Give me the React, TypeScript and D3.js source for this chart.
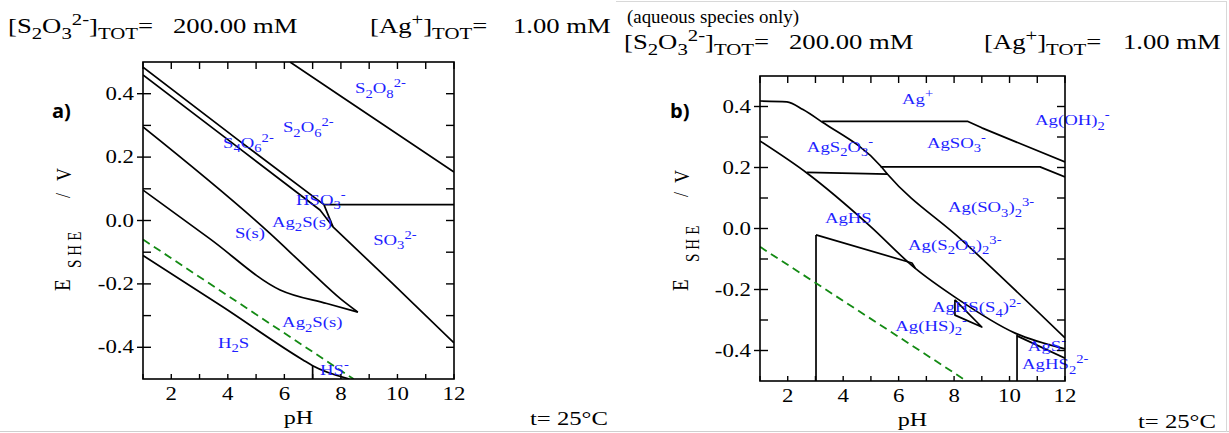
import React from 'react';
import * as d3 from 'd3';

type Pt = [number, number];

// ---------- Panel a: boundaries (pH, E / V) ----------
const aS2O8: Pt[] = [[6.2, 0.5], [8.0, 0.392], [12, 0.153]];
const aUpperA: Pt[] = [[1, 0.484], [4.5, 0.245], [7.4, 0.05], [7.72, -0.02]];
const aUpperB: Pt[] = [[1, 0.459], [4.5, 0.221], [7.26, 0.033], [7.72, -0.02], [9.84, -0.2], [12, -0.386]];
const aHSO3: Pt[] = [[7.4, 0.05], [12, 0.05]];
const aWedgeTop: Pt[] = [[1, 0.295], [5.48, -0.04], [6.8, -0.15], [8.0, -0.248], [8.6, -0.289]];
const aWedgeBottom: Pt[] = [[1, 0.096], [3.37, -0.058], [5.85, -0.219], [7.5, -0.262], [8.6, -0.289]];
const aH2S: Pt[] = [[1, -0.11], [3.83, -0.273], [6.66, -0.44], [7, -0.458], [8.3, -0.5]];
const aHSvert: Pt[] = [[7, -0.458], [7, -0.5]];
const aWater: Pt[] = [[1, -0.06], [8.45, -0.5]];

// ---------- Panel b: boundaries ----------
const bTop: Pt[] = [[1, 0.418], [1.97, 0.415], [2.55, 0.39], [3.24, 0.349], [5.35, 0.205], [5.6, 0.178], [8.28, -0.038], [12, -0.359]];
const bAgSO3Top: Pt[] = [[3.24, 0.351], [8.5, 0.351], [9.0, 0.33], [12, 0.218]];
const bAgSO3Bottom: Pt[] = [[5.35, 0.202], [11.1, 0.202], [12, 0.169]];
const bAgS2O3Bottom: Pt[] = [[2.69, 0.184], [4.8, 0.18], [5.6, 0.178]];
const bMid: Pt[] = [[1, 0.287], [2.69, 0.182], [4.97, 0.008], [6.59, -0.13], [8.03, -0.225], [10.2, -0.343], [12, -0.395]];
const bAgHSTop: Pt[] = [[3.02, -0.021], [6.48, -0.113], [6.6, -0.13]];
const bVert1: Pt[] = [[3.02, -0.021], [3.02, -0.5]];
const bTriangle: Pt[] = [[8.03, -0.234], [8.03, -0.284], [9.0, -0.323], [8.03, -0.234]];
const bVert2: Pt[] = [[10.27, -0.349], [10.27, -0.5]];
const bSliver: Pt[] = [[10.27, -0.352], [12, -0.425]];
const bWater: Pt[] = [[1, -0.06], [8.45, -0.5]];

// ---------- Region labels: [markup, pH, E] ----------
const aLabels: [string, number, number][] = [
  ['S_2O_8^{2-}', 8.5, 0.402],
  ['S_2O_6^{2-}', 5.95, 0.279],
  ['S_4O_6^{2-}', 3.83, 0.229],
  ['HSO_3^-', 6.41, 0.049],
  ['Ag_2S(s)', 5.56, -0.02],
  ['S(s)', 4.25, -0.055],
  ['SO_3^{2-}', 9.14, -0.077],
  ['Ag_2S(s)', 5.92, -0.336],
  ['H_2S', 3.65, -0.402],
  ['HS^-', 7.26, -0.487],
];
const bLabels: [string, number, number][] = [
  ['Ag^+', 6.12, 0.408],
  ['Ag(OH)_2^-', 10.92, 0.339],
  ['AgS_2O_3^-', 2.69, 0.251],
  ['AgSO_3^-', 7.02, 0.264],
  ['Ag(SO_3)_2^{3-}', 7.78, 0.054],
  ['AgHS', 3.34, 0.018],
  ['Ag(S_2O_3)_2^{3-}', 6.34, -0.07],
  ['AgHS(S_4)^{2-}', 7.2, -0.275],
  ['Ag(HS)_2^-', 5.88, -0.335],
  ['AgS^-', 10.66, -0.402],
  ['AgHS_2^{2-}', 10.45, -0.461],
];

const xTicks = d3.range(1, 13);
const xTickLabels = [2, 4, 6, 8, 10, 12];
const yTicks = [-0.4, -0.3, -0.2, -0.1, 0, 0.1, 0.2, 0.3, 0.4];
const yTickLabels = [-0.4, -0.2, 0, 0.2, 0.4];

const SERIF = '"Liberation Serif", "Times New Roman", serif';
const BLUE = '#1f1fff';
const SX = 1.27; // horizontal stretch of the original figure's text

type Part = { t: string; k?: 'sub' | 'sup' };
function parse(s: string): Part[] {
  const out: Part[] = [];
  let buf = '';
  let i = 0;
  while (i < s.length) {
    const c = s[i];
    if (c === '_' || c === '^') {
      if (buf) { out.push({ t: buf }); buf = ''; }
      let t = '';
      if (s[i + 1] === '{') {
        const j = s.indexOf('}', i + 2);
        t = s.slice(i + 2, j);
        i = j + 1;
      } else {
        t = s[i + 1];
        i += 2;
      }
      out.push({ t, k: c === '_' ? 'sub' : 'sup' });
    } else {
      buf += c;
      i++;
    }
  }
  if (buf) out.push({ t: buf });
  return out;
}

function Rich(props: { x: number; y: number; spec: string; size: number; fill?: string; anchor?: string; sx?: number; sub?: number }) {
  const { x, y, spec, size, fill = '#000', anchor = 'start', sx = SX, sub = 0.78 } = props;
  const parts = parse(spec);
  let cur = 0;
  return (
    <g transform={`translate(${x},${y}) scale(${sx},1)`}>
      <text x={0} y={0} fontSize={size} fill={fill} fontFamily={SERIF} textAnchor={anchor} style={{ whiteSpace: 'pre' }}>
        {parts.map((p, i) => {
          const target = p.k === 'sub' ? size * 0.3 : p.k === 'sup' ? -size * 0.38 : 0;
          const dy = target - cur;
          cur = target;
          return (
            <tspan key={i} dy={dy} fontSize={p.k ? size * sub : size}>
              {p.t}
            </tspan>
          );
        })}
      </text>
    </g>
  );
}

function RotText(props: { x: number; y: number; size: number; children: React.ReactNode; ls?: number }) {
  return (
    <text transform={`translate(${props.x},${props.y}) rotate(-90) scale(1,1.2)`} fontFamily={SERIF} fontSize={props.size} letterSpacing={props.ls || 0}>
      {props.children}
    </text>
  );
}

type PanelProps = {
  x0: number; x1: number; y0: number; y1: number;
  curved: Pt[][];
  straight: Pt[][];
  water: Pt[];
  labels: [string, number, number][];
  tag: string;
  tagX: number; tagY: number;
  yLab: { eX: number; eY: number; sheX: number; sheY: number; slashY: number; vY: number };
  tickLabRight: number;
  xTickLabY: number; pHY: number;
};

function Panel(p: PanelProps) {
  const x = d3.scaleLinear().domain([1, 12]).range([p.x0, p.x1]);
  const y = d3.scaleLinear().domain([-0.5, 0.5]).range([p.y1, p.y0]);
  const line = d3.line<Pt>().x(d => x(d[0])).y(d => y(d[1]));
  const smooth = d3.line<Pt>().x(d => x(d[0])).y(d => y(d[1])).curve(d3.curveMonotoneX);
  const clipId = 'clip' + p.tag;
  return (
    <g>
      <defs>
        <clipPath id={clipId}>
          <rect x={p.x0} y={p.y0} width={p.x1 - p.x0} height={p.y1 - p.y0} />
        </clipPath>
      </defs>
      <g clipPath={`url(#${clipId})`}>
        {p.curved.map((l, i) => (
          <path key={'c' + i} d={smooth(l) || ''} fill="none" stroke="#000" strokeWidth={1.7} strokeLinejoin="round" />
        ))}
        {p.straight.map((l, i) => (
          <path key={'s' + i} d={line(l) || ''} fill="none" stroke="#000" strokeWidth={1.7} strokeLinejoin="round" />
        ))}
        <path d={line(p.water) || ''} fill="none" stroke="#138a13" strokeWidth={1.8} strokeDasharray="8,5" />
      </g>
      {p.labels.map(([s, ph, e], i) => (
        <Rich key={i} x={x(ph)} y={y(e)} spec={s} size={15} fill={BLUE} sx={1.25} />
      ))}
      <rect x={p.x0} y={p.y0} width={p.x1 - p.x0} height={p.y1 - p.y0} fill="none" stroke="#000" strokeWidth={1.6} />
      {xTicks.map(t => (
        <g key={'xt' + t}>
          <line x1={x(t)} x2={x(t)} y1={p.y1} y2={p.y1 - 5} stroke="#000" strokeWidth={1.4} />
          <line x1={x(t)} x2={x(t)} y1={p.y0} y2={p.y0 + 7} stroke="#000" strokeWidth={1.4} />
        </g>
      ))}
      {yTicks.map(t => {
        const major = yTickLabels.some(v => Math.abs(v - t) < 1e-9);
        return (
          <g key={'yt' + t}>
            <line x1={major ? p.x0 - 6 : p.x0} x2={p.x0 + 8} y1={y(t)} y2={y(t)} stroke="#000" strokeWidth={1.4} />
            <line x1={p.x1} x2={p.x1 - 8} y1={y(t)} y2={y(t)} stroke="#000" strokeWidth={1.4} />
          </g>
        );
      })}
      {xTickLabels.map(t => (
        <Rich key={'xl' + t} x={x(t)} y={p.xTickLabY} spec={String(t)} size={18} anchor="middle" />
      ))}
      {yTickLabels.map(t => (
        <Rich key={'yl' + t} x={p.tickLabRight} y={y(t) + 6} spec={t.toFixed(1)} size={18} anchor="end" />
      ))}
      <Rich x={(p.x0 + p.x1) / 2} y={p.pHY} spec="pH" size={19} anchor="middle" />
      <RotText x={p.yLab.eX} y={p.yLab.eY} size={19}>E</RotText>
      <RotText x={p.yLab.sheX} y={p.yLab.sheY} size={15} ls={4}>SHE</RotText>
      <RotText x={p.yLab.eX} y={p.yLab.slashY} size={18}>/</RotText>
      <RotText x={p.yLab.eX + 1} y={p.yLab.vY} size={18}>V</RotText>
      <text x={p.tagX} y={p.tagY} fontFamily='"Open Sans", "Liberation Sans", sans-serif' fontWeight="bold" fontSize={20}>{p.tag + ')'}</text>
    </g>
  );
}

export default function App() {
  return (
    <svg width={1229} height={433} style={{ position: 'absolute', left: 0, top: 0, background: '#fff' }}>
      <rect x={0} y={0} width={1229} height={433} fill="#fff" />
      <line x1={0} x2={1229} y1={431.5} y2={431.5} stroke="#cfcfcf" strokeWidth={1} />
      <line x1={616} x2={1226} y1={1.5} y2={1.5} stroke="#d8d8d8" strokeWidth={1} />
      <line x1={1226.5} x2={1226.5} y1={1} y2={432} stroke="#d8d8d8" strokeWidth={1} />

      {/* Header a */}
      <Rich x={8} y={33} spec={'[S_2O_3^{2-}]_{TOT}='} size={21} />
      <Rich x={173} y={33} spec={'200.00 mM'} size={21} />
      <Rich x={370} y={33} spec={'[Ag^+]_{TOT}='} size={21} />
      <Rich x={513} y={33} spec={'1.00 mM'} size={21} />
      {/* Header b */}
      <Rich x={627} y={23} spec={'(aqueous species only)'} size={18} sx={1.05} />
      <Rich x={624} y={49} spec={'[S_2O_3^{2-}]_{TOT}='} size={21} />
      <Rich x={789} y={49} spec={'200.00 mM'} size={21} />
      <Rich x={984} y={49} spec={'[Ag^+]_{TOT}='} size={21} />
      <Rich x={1123} y={49} spec={'1.00 mM'} size={21} />

      <Panel
        x0={143} x1={454} y0={62} y1={379}
        curved={[aWedgeTop, aWedgeBottom, aH2S]}
        straight={[aS2O8, aUpperA, aUpperB, aHSO3, aHSvert]}
        water={aWater}
        labels={aLabels}
        tag="a" tagX={52} tagY={118}
        yLab={{ eX: 70, eY: 291, sheX: 81, sheY: 268, slashY: 198, vY: 181 }}
        tickLabRight={134}
        xTickLabY={400} pHY={424}
      />
      <Panel
        x0={760} x1={1065} y0={76} y1={381}
        curved={[bTop, bMid]}
        straight={[bAgSO3Top, bAgSO3Bottom, bAgS2O3Bottom, bAgHSTop, bVert1, bTriangle, bVert2, bSliver]}
        water={bWater}
        labels={bLabels}
        tag="b" tagX={670} tagY={118}
        yLab={{ eX: 688, eY: 291, sheX: 699, sheY: 262, slashY: 197, vY: 183 }}
        tickLabRight={751}
        xTickLabY={402} pHY={426}
      />
      <Rich x={530} y={425} spec="t= 25°C" size={19} sx={1.3} />
      <Rich x={1138} y={428} spec="t= 25°C" size={19} sx={1.3} />
    </svg>
  );
}
